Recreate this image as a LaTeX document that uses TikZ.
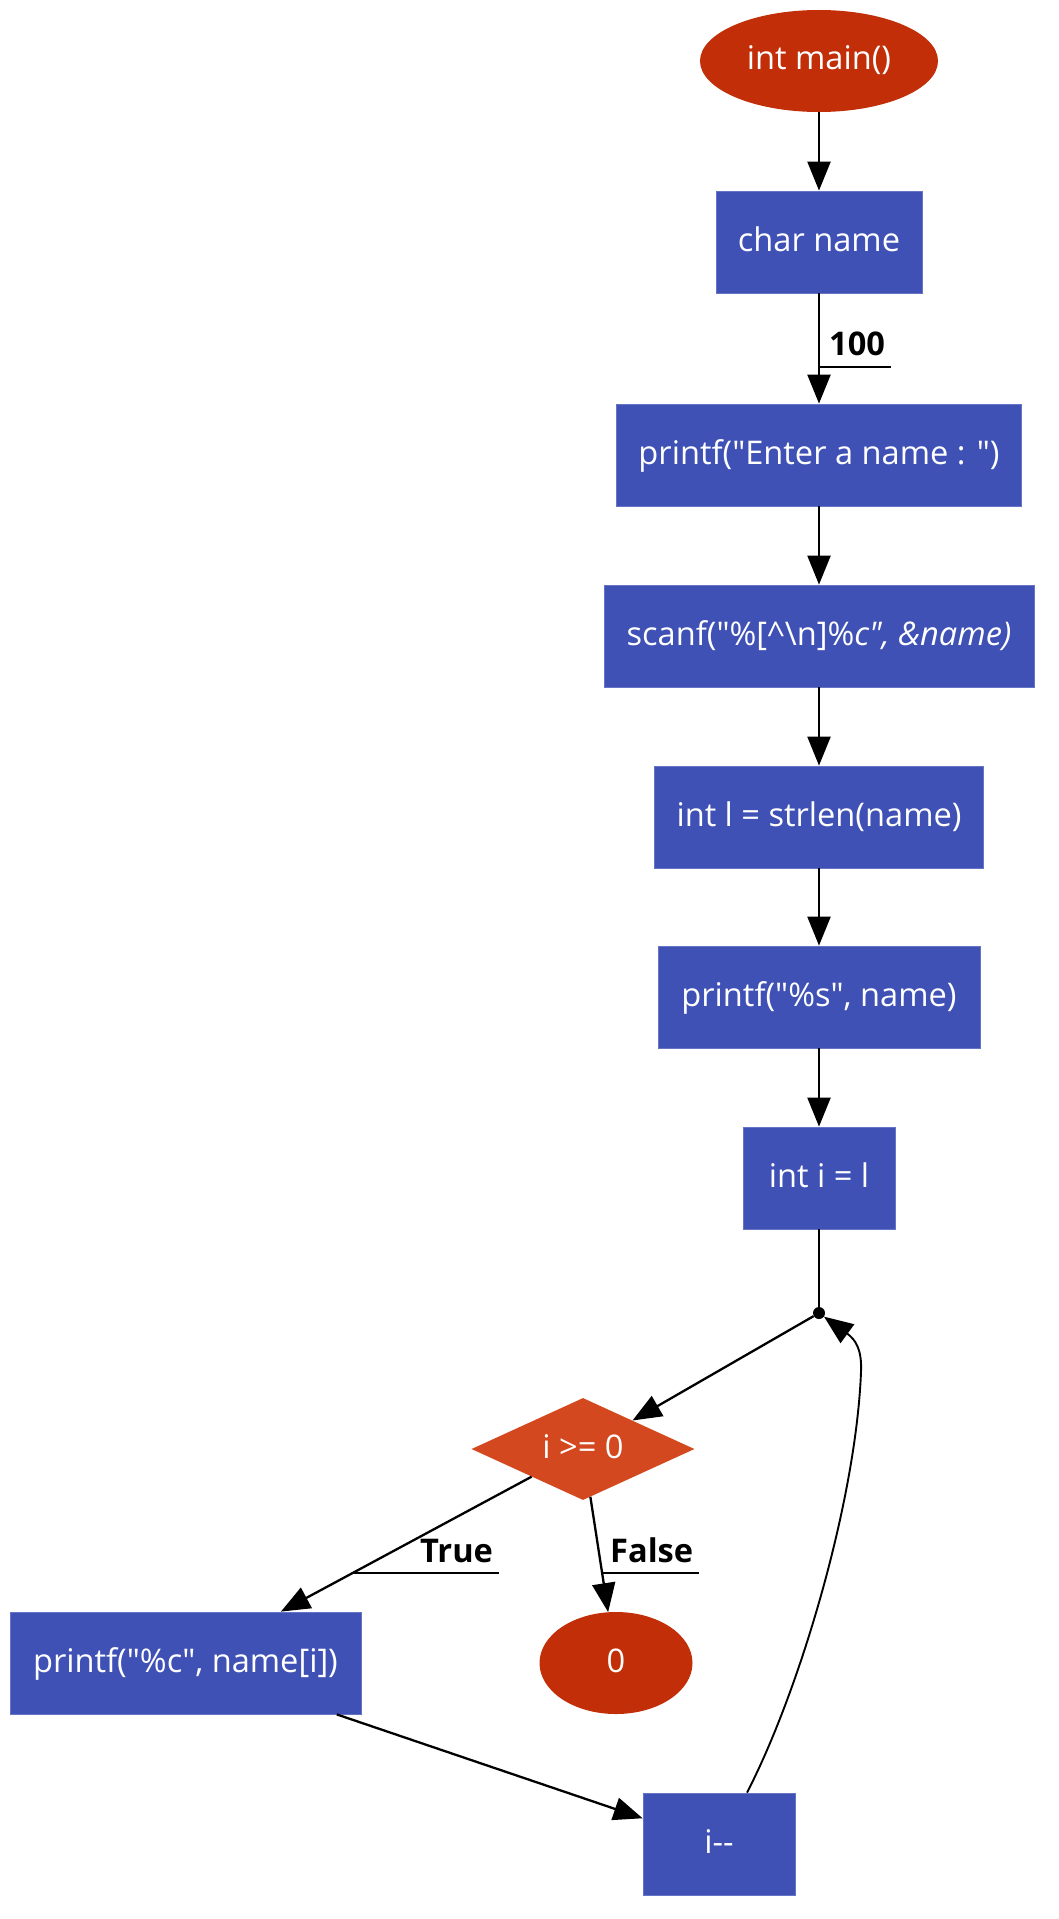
\documentclass[tikz,border=0pt]{standalone}
\usepackage{fontspec}
\setmainfont{Open Sans}
\usetikzlibrary{shapes.geometric,arrows.meta}
\definecolor{boxblue}{HTML}{3F51B5}
\definecolor{termred}{HTML}{C12E07}
\definecolor{decorange}{HTML}{D3481E}
\newcommand{\dq}{\textquotedbl}
\tikzset{
  base/.style={inner sep=0pt, text=white, font=\fontsize{32.6}{39}\selectfont, text height=24pt, text depth=6pt},
  procbox/.style={base, rectangle, fill=boxblue, draw=boxblue!80!white, line width=0.8pt, minimum height=102pt},
  termnode/.style={base, ellipse, fill=termred, minimum height=102pt},
  decnode/.style={base, diamond, fill=decorange, minimum width=223pt, minimum height=102pt, aspect=2.2},
  edgelbl/.style={inner sep=0pt, font=\fontsize{32.6}{39}\selectfont\bfseries, text=black},
  conn/.style={line width=2.3pt, -{Triangle[length=29pt,width=23pt]}},
  plain/.style={line width=2.3pt},
}
\begin{document}
\begin{tikzpicture}[x=1pt,y=-1pt]
\useasboundingbox (0,0) rectangle (1058,1919);
\fill[white] (0,0) rectangle (1058,1919);
\node[termnode, minimum width=238pt] (main) at (819,61) {int main()};
\node[procbox, minimum width=206pt] (name) at (819,242) {char name};
\node[procbox, minimum width=405pt] (enter) at (819,455) {printf(\dq Enter a name : \dq)};
\node[procbox, minimum width=430pt] (scanf) at (819,636) {scanf(\dq\%[\textasciicircum\textbackslash n]\%\textit{c\dq, \&name)}};
\node[procbox, minimum width=329pt] (strlen) at (819,817) {int l = strlen(name)};
\node[procbox, minimum width=322pt] (prs) at (819,997) {printf(\dq\%s\dq, name)};
\node[procbox, minimum width=152pt] (inti) at (819,1178) {int i = l};
\node[circle, fill=black, inner sep=0pt, minimum size=12pt] (j) at (819,1313) {};
\node[decnode] (d) at (583,1449) {i >= 0};
\node[termnode, minimum width=153pt] (zero) at (616,1663) {0};
\node[procbox, minimum width=351pt] (pc) at (185.5,1663) {printf(\dq\%c\dq, name[i])};
\node[procbox, minimum width=152pt] (dec) at (719,1844) {i-{}-};

\draw[conn] (main) -- (name);
\draw[conn] (name) -- (enter);
\draw[conn] (enter) -- (scanf);
\draw[conn] (scanf) -- (strlen);
\draw[conn] (strlen) -- (prs);
\draw[conn] (prs) -- (inti);
\draw[plain] (inti) -- (j.center);
\draw[conn] (j) -- (d);
\draw[conn] (d) -- (pc);
\draw[conn] (d) -- (zero);
\draw[conn] (pc) -- (dec);
\draw[line width=1.9pt, -{Triangle[length=29pt,width=23pt]}]
  ([xshift=28pt]dec.north) .. controls (800,1690) and (856,1500) .. (861,1372)
  .. controls (862,1350) and (856,1340) .. (j);

\node[edgelbl, anchor=base west] (l100) at (829,355) {100};
\draw[line width=2pt] (name.south |- 0,367) -- (891,367);
\node[edgelbl, anchor=base west] (ltrue) at (420,1562) {True};
\draw[line width=2pt] (352,1573) -- (499,1573);
\node[edgelbl, anchor=base west] (lfalse) at (610,1562) {False};
\draw[line width=2pt] (603,1573) -- (699,1573);
\end{tikzpicture}
\end{document}
